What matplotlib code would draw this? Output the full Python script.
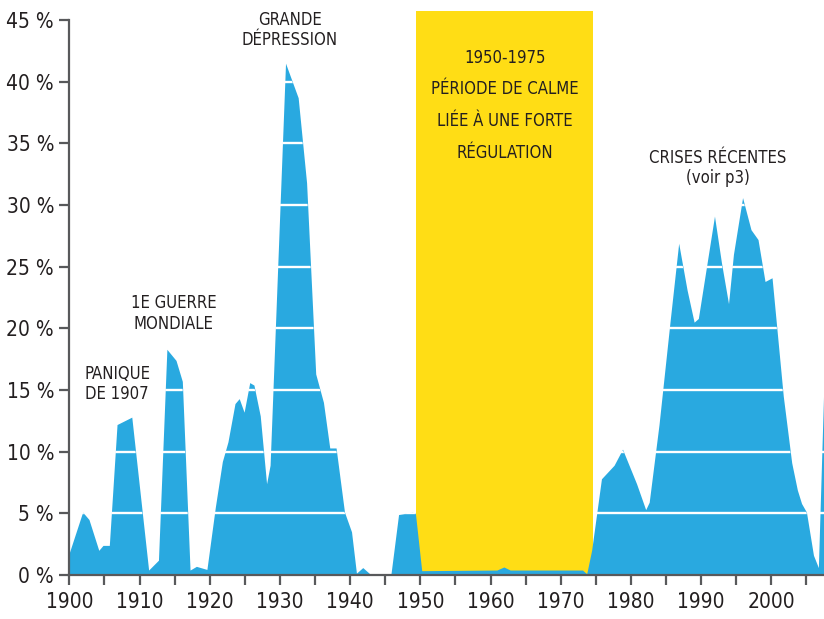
import numpy as np
import matplotlib
matplotlib.use('Agg')
import matplotlib.pyplot as plt
from matplotlib import font_manager as fm

# valeurs (annee, %)
annees = [1900.0, 1901.9, 1902.8, 1904.2, 1904.8, 1905.7, 1906.8, 1908.9, 1911.3, 1912.7,
          1913.9, 1915.2, 1916.1, 1917.2, 1918.1, 1919.6, 1920.8, 1921.8, 1922.6, 1923.6,
          1924.2, 1924.9, 1925.7, 1926.3, 1927.2, 1928.1, 1928.6, 1930.8, 1931.7, 1932.6,
          1933.8, 1935.1, 1936.2, 1937.1, 1938.0, 1939.2, 1940.2, 1940.9, 1941.8, 1942.8,
          1943.2, 1945.8, 1946.9, 1948.8, 1949.3, 1950.2, 1960.9, 1961.9, 1962.8, 1973.1,
          1973.7, 1974.4, 1975.8, 1977.6, 1978.8, 1980.8, 1982.1, 1982.6, 1984.0, 1985.6,
          1986.8, 1988.0, 1989.0, 1989.6, 1991.9, 1992.9, 1993.9, 1994.6, 1995.9, 1997.1,
          1998.1, 1999.1, 2000.1, 2001.7, 2002.9, 2003.7, 2004.3, 2005.0, 2006.0, 2006.7,
          2007.5]
valeurs = [1.8, 5.1, 4.5, 2.0, 2.4, 2.4, 12.2, 12.8, 0.4, 1.2,
           18.3, 17.4, 15.7, 0.4, 0.7, 0.45, 5.5, 9.2, 10.8, 13.9,
           14.3, 13.2, 15.6, 15.4, 12.9, 7.4, 8.9, 41.5, 40.1, 38.7,
           31.8, 16.3, 14.0, 10.3, 10.3, 5.1, 3.5, 0.15, 0.6, 0.1,
           0.0, 0.0, 4.9, 5.1, 5.0, 0.35, 0.4, 0.65, 0.4, 0.4,
           0.1, 2.0, 7.8, 8.9, 10.2, 7.4, 5.3, 5.9, 12.2, 20.7,
           26.9, 23.1, 20.5, 20.8, 29.1, 25.3, 22.0, 26.0, 30.6, 28.0,
           27.2, 23.8, 24.1, 14.5, 9.1, 6.9, 5.8, 5.1, 1.6, 0.6,
           15.8]

periode_calme = (1949.4, 1974.6)
niveaux_grille = [5, 10, 15, 20, 25, 30, 35, 40]
y_ticks = [0, 5, 10, 15, 20, 25, 30, 35, 40, 45]
y_labels = ['%d %%' % v for v in y_ticks]
x_ticks = list(range(1900, 2001, 10))

bleu = '#29a9e0'
jaune = '#ffdd15'
texte = '#231f20'
gris = '#58595b'

# police etroite si disponible
polices = fm.fontManager.ttflist
noms = {f.name for f in polices}
if any(f.name == 'DejaVu Sans' and f.stretch == 'condensed' for f in polices):
    famille, etirement = 'DejaVu Sans', 'condensed'
elif 'Liberation Sans Narrow' in noms:
    famille, etirement = 'Liberation Sans Narrow', 'normal'
else:
    famille, etirement = 'DejaVu Sans', 'normal'
plt.rcParams['font.family'] = [famille, 'DejaVu Sans']
plt.rcParams['font.stretch'] = etirement

fig = plt.figure(figsize=(8.24, 6.19), dpi=100)
ax = fig.add_axes([0.0841, 0.0711, 0.9159, 0.9111])

ax.axvspan(periode_calme[0], periode_calme[1], color=jaune, lw=0, zorder=1)
aire = ax.fill_between(annees, valeurs, 0, color=bleu, lw=0, zorder=2)

# lignes blanches seulement dans l'aire bleue
chemin = aire.get_paths()[0]
for niv in niveaux_grille:
    ln = ax.axhline(niv, color='white', lw=1.7, zorder=3)
    ln.set_clip_path(chemin, ax.transData)

ax.set_xlim(1900, 2007.5)
ax.set_ylim(0, 45.73)

for s in ['top', 'right']:
    ax.spines[s].set_visible(False)
for s in ['left', 'bottom']:
    ax.spines[s].set_color(gris)
    ax.spines[s].set_linewidth(1.6)
    ax.spines[s].set_zorder(5)
ax.spines['left'].set_bounds(0, 45)

ax.set_yticks(y_ticks)
ax.set_yticklabels(y_labels)
ax.set_xticks(x_ticks)
ax.set_xticks(list(range(1905, 2006, 10)), minor=True)
ax.tick_params(axis='both', which='both', length=7, width=1.6, color=gris, labelcolor=texte)
ax.tick_params(axis='y', labelsize=15, pad=4)
ax.tick_params(axis='x', labelsize=15, pad=5)

kw = dict(ha='center', va='center', color=texte, fontsize=12, linespacing=1.15)
ax.text(1931.4, 44.2, 'GRANDE\nDÉPRESSION', **kw)
ax.text(1914.9, 21.2, '1E GUERRE\nMONDIALE', **kw)
ax.text(1906.8, 15.5, 'PANIQUE\nDE 1907', **kw)
ax.text(1992.4, 33.0, 'CRISES RÉCENTES\n(voir p3)', **kw)
ax.text(1962.0, 38.1, '1950-1975\nPÉRIODE DE CALME\nLIÉE À UNE FORTE\nRÉGULATION',
        ha='center', va='center', color=texte, fontsize=12, linespacing=1.98, zorder=4)

fig.savefig('out.png', dpi=100)
